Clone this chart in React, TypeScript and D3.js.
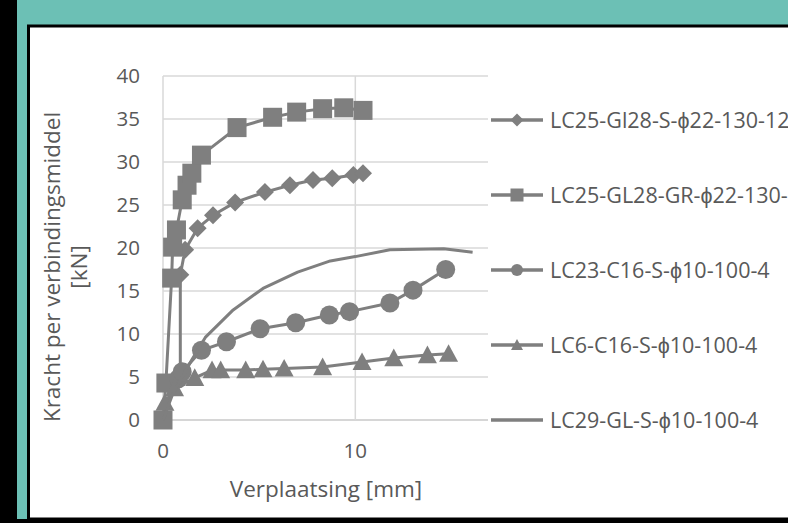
import React from 'react';
import * as d3 from 'd3';

// series data: [displacement mm, force kN]
const diamondName = 'LC25-Gl28-S-\u03D522-130-12';
const diamondX = [0, 0.45, 0.9, 0.9, 1.15, 1.8, 2.6, 3.75, 5.3, 6.6, 7.8, 8.8, 9.9, 10.4];
const diamondY = [0, 3.8, 5.0, 16.9, 19.8, 22.3, 23.8, 25.3, 26.5, 27.3, 27.9, 28.1, 28.5, 28.7];

const squareName = 'LC25-GL28-GR-\u03D522-130-';
const squareX = [0, 0.15, 0.45, 0.5, 0.7, 1.0, 1.25, 1.5, 2.0, 3.85, 5.7, 6.95, 8.3, 9.4, 10.4];
const squareY = [0, 4.3, 16.5, 20.1, 22.1, 25.6, 27.3, 28.7, 30.8, 34.0, 35.2, 35.8, 36.2, 36.3, 36.0];

const circleName = 'LC23-C16-S-\u03D510-100-4';
const circleX = [0.8, 1.0, 2.0, 3.3, 5.05, 6.9, 8.65, 9.7, 11.8, 13.0, 14.7];
const circleY = [4.8, 5.6, 8.1, 9.1, 10.6, 11.3, 12.2, 12.6, 13.6, 15.1, 17.5];

const triangleName = 'LC6-C16-S-\u03D510-100-4';
const triangleX = [0.1, 0.6, 1.65, 2.55, 3.0, 4.3, 5.2, 6.3, 8.3, 10.35, 12.0, 13.75, 14.85];
const triangleY = [2.0, 3.7, 4.9, 5.8, 5.8, 5.8, 5.9, 6.0, 6.15, 6.75, 7.2, 7.55, 7.7];

const lineName = 'LC29-GL-S-\u03D510-100-4';
const lineX = [0, 0.5, 1.5, 2.2, 3.65, 5.2, 7.0, 8.7, 10.0, 11.8, 14.6, 16.1];
const lineY = [0, 3.0, 7.0, 9.6, 12.8, 15.3, 17.2, 18.5, 19.0, 19.8, 19.9, 19.5];

const yTicks = [0, 5, 10, 15, 20, 25, 30, 35, 40];
const xTicks = [0, 10];
const xMax = 16.9;

const grey = '#7f7f7f';
const textGrey = '#595959';
const font = '"Open Sans", sans-serif';

type Kind = 'diamond' | 'square' | 'circle' | 'triangle' | 'none';

function markerPath(kind: Kind, s: number): string {
  const h = s / 2;
  if (kind === 'diamond') return `M0,${-h}L${h},0L0,${h}L${-h},0Z`;
  if (kind === 'square') return `M${-h},${-h}H${h}V${h}H${-h}Z`;
  if (kind === 'circle') return d3.symbol(d3.symbolCircle, Math.PI * h * h)() as string;
  if (kind === 'triangle') return `M0,${-h}L${h},${h * 0.85}L${-h},${h * 0.85}Z`;
  return '';
}

const series: { name: string; xs: number[]; ys: number[]; kind: Kind; size: number; legSize: number }[] = [
  { name: diamondName, xs: diamondX, ys: diamondY, kind: 'diamond', size: 18, legSize: 13 },
  { name: squareName, xs: squareX, ys: squareY, kind: 'square', size: 19, legSize: 13 },
  { name: circleName, xs: circleX, ys: circleY, kind: 'circle', size: 19, legSize: 12 },
  { name: triangleName, xs: triangleX, ys: triangleY, kind: 'triangle', size: 19, legSize: 12 },
  { name: lineName, xs: lineX, ys: lineY, kind: 'none', size: 0, legSize: 0 },
];

export default function App() {
  const W = 788;
  const H = 523;
  const x = d3.scaleLinear().domain([0, xMax]).range([163, 488]);
  const y = d3.scaleLinear().domain([0, 40]).range([420, 76]);
  const legY = d3.scalePoint<string>().domain(series.map(s => s.name)).range([120, 420]);

  const line = d3.line<[number, number]>().x(d => x(d[0])).y(d => y(d[1]));

  return (
    <svg width={W} height={H} style={{ position: 'fixed', left: 0, top: 0 }}>
      <rect x={0} y={0} width={W} height={H} fill="#6cc0b5" />
      <rect x={0} y={0} width={17} height={H} fill="#000" />
      <rect x={28.5} y={26} width={W} height={493} fill="#fff" stroke="#000" strokeWidth={3} />
      <rect x={0} y={519} width={W} height={4} fill="#000" />

      {/* grid */}
      {yTicks.map(t => (
        <line key={'gy' + t} x1={x(0)} x2={x(xMax)} y1={y(t)} y2={y(t)}
          stroke={t === 0 ? '#c8c8c8' : '#d9d9d9'} strokeWidth={1.5} />
      ))}
      {xTicks.map(t => (
        <line key={'gx' + t} x1={x(t)} x2={x(t)} y1={y(0)} y2={y(40)} stroke="#d9d9d9" strokeWidth={1.5} />
      ))}

      {/* tick labels */}
      {yTicks.map(t => (
        <text key={'ty' + t} x={140} y={y(t)} dy="0.36em" textAnchor="end" fontFamily={font}
          fontSize={20.5} fill={textGrey}>{t}</text>
      ))}
      {xTicks.map(t => (
        <text key={'tx' + t} x={x(t)} y={458} textAnchor="middle" fontFamily={font}
          fontSize={20.5} fill={textGrey}>{t}</text>
      ))}

      {/* axis titles */}
      <text x={326} y={497} textAnchor="middle" fontFamily={font} fontSize={22.5} fill={textGrey}>
        Verplaatsing [mm]
      </text>
      <g transform="translate(60,267) rotate(-90)">
        <text x={0} y={0} textAnchor="middle" fontFamily={font} fontSize={22.5} fill={textGrey}>
          Kracht per verbindingsmiddel
        </text>
        <text x={0} y={27} textAnchor="middle" fontFamily={font} fontSize={22.5} fill={textGrey}>
          [kN]
        </text>
      </g>

      {/* series */}
      {series.map(s => {
        const pts = s.xs.map((v, i) => [v, s.ys[i]] as [number, number]);
        return (
          <g key={s.name}>
            <path d={line(pts) || ''} fill="none" stroke={grey} strokeWidth={3} strokeLinejoin="round" />
            {s.kind !== 'none' && pts.map((p, i) => (
              <path key={i} d={markerPath(s.kind, s.size)} transform={`translate(${x(p[0])},${y(p[1])})`} fill={grey} />
            ))}
          </g>
        );
      })}

      {/* legend */}
      {series.map(s => {
        const ly = legY(s.name) as number;
        return (
          <g key={'leg' + s.name}>
            <line x1={491} x2={543} y1={ly} y2={ly} stroke={grey} strokeWidth={3.5} />
            {s.kind !== 'none' && (
              <path d={markerPath(s.kind, s.legSize)} transform={`translate(517,${ly})`} fill={grey} />
            )}
            <text x={550} y={ly} dy="0.36em" fontFamily={font} fontSize={21.5} fill={textGrey}>{s.name}</text>
          </g>
        );
      })}
    </svg>
  );
}
